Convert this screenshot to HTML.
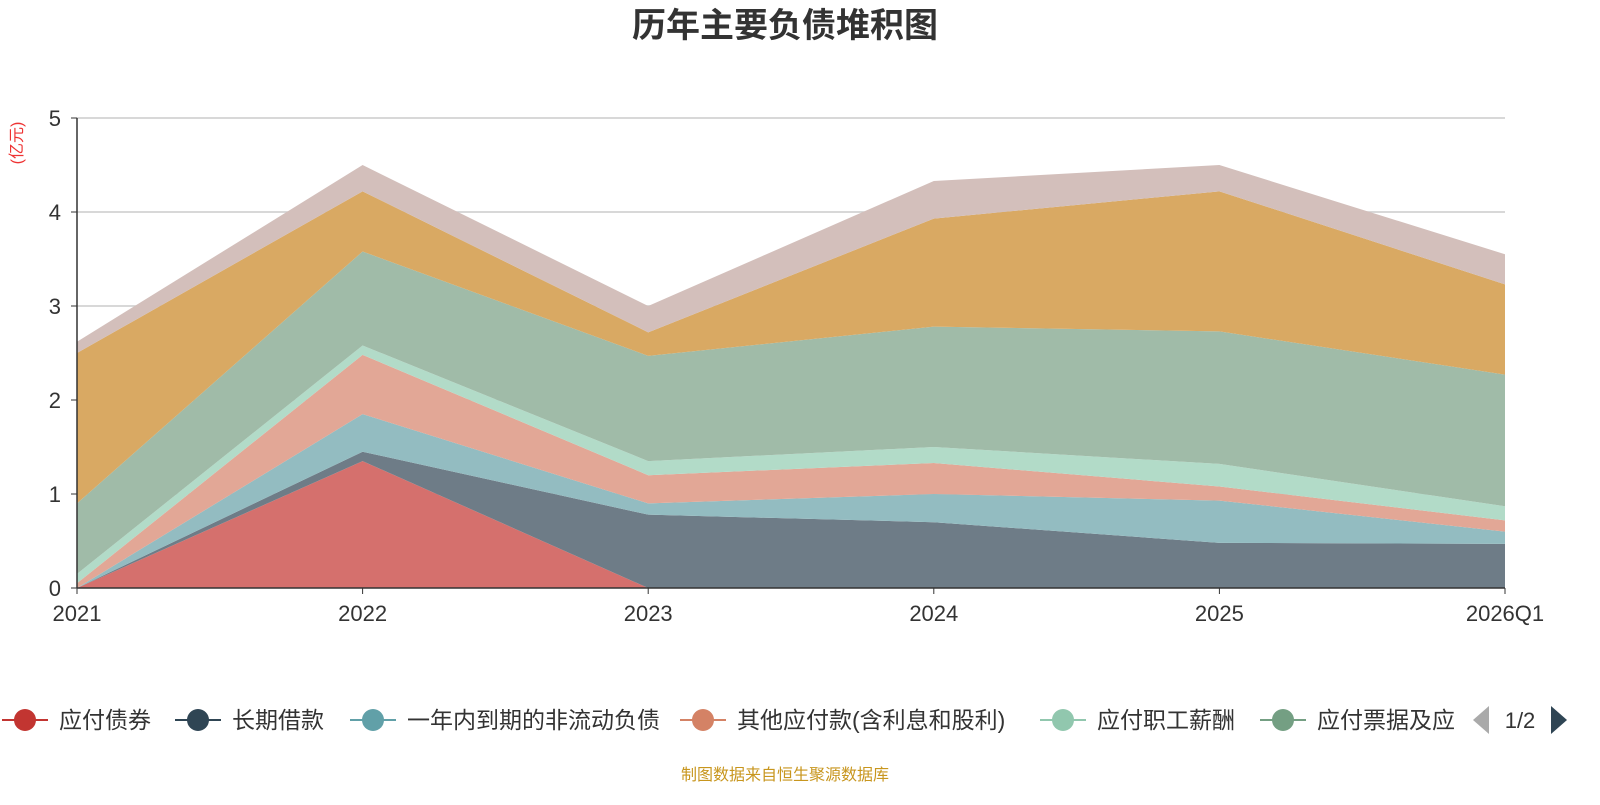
<!DOCTYPE html>
<html><head><meta charset="utf-8">
<style>
body{margin:0;background:#fff;font-family:"Liberation Sans","Noto Sans CJK SC",sans-serif;}
svg text{font-family:"Liberation Sans","Noto Sans CJK SC",sans-serif;}
</style></head>
<body>
<svg id="chart" width="1600" height="800" viewBox="0 0 1600 800" xmlns="http://www.w3.org/2000/svg">
<text x="785" y="37" text-anchor="middle" font-size="34" font-weight="bold" fill="#333">历年主要负债堆积图</text>
<text transform="translate(22,143) rotate(-90)" text-anchor="middle" font-size="16" fill="#e33">(亿元)</text>
<g id="grid"></g>
<g id="areas"></g>
<g id="axes"></g>
<g id="legend"></g>
<text x="785" y="780" text-anchor="middle" font-size="16" fill="#c8961e">制图数据来自恒生聚源数据库</text>
</svg>
<script>
const categories=["2021","2022","2023","2024","2025","2026Q1"];
const yTicks=[0,1,2,3,4,5];
const seriesNames=["应付债券","长期借款","一年内到期的非流动负债","其他应付款(含利息和股利)","应付职工薪酬","应付票据及应付账款","合同负债","其他"];
const s0=[0,1.35,0,0,0,0];
const s1=[0,0.10,0.78,0.70,0.48,0.47];
const s2=[0,0.40,0.12,0.30,0.45,0.13];
const s3=[0.05,0.63,0.30,0.33,0.15,0.12];
const s4=[0.10,0.10,0.15,0.17,0.24,0.15];
const s5=[0.75,1.00,1.12,1.28,1.41,1.40];
const s6=[1.60,0.64,0.25,1.15,1.49,0.96];
const s7=[0.12,0.28,0.28,0.40,0.28,0.32];
const series=[s0,s1,s2,s3,s4,s5,s6,s7];
const fills=["#d5706d","#6e7c87","#93bcc1","#e2a796","#b2dbc8","#a0bba8","#d9a963","#d3bfbb"];
const legendColors=["#c23531","#2f4554","#61a0a8","#d48265","#91c7ae","#749f83"];
const NS="http://www.w3.org/2000/svg";
const x0=77,x1=1505,yB=588,yT=118,yMax=5;
const xs=i=>x0+(x1-x0)*i/(categories.length-1);
const ys=v=>yB-(yB-yT)*v/yMax;
function mk(t,a,p){const e=document.createElementNS(NS,t);for(const k in a)e.setAttribute(k,a[k]);p.appendChild(e);return e;}
const grid=document.getElementById('grid'),axes=document.getElementById('axes'),areas=document.getElementById('areas'),legend=document.getElementById('legend');
yTicks.forEach(v=>{
  if(v>0){const l=mk('line',{x1:x0,x2:x1,y1:ys(v),y2:ys(v),stroke:'#ccc','stroke-width':1.5},grid);
  
  }
  const t=mk('text',{x:x0-16,y:ys(v)+8,'text-anchor':'end','font-size':22,fill:'#333'},axes);t.textContent=v;
  
  
  const tk=mk('line',{x1:x0-6,x2:x0,y1:ys(v),y2:ys(v),stroke:'#333'},axes);
  
  
});
let cum=categories.map(()=>0);
series.forEach((s,si)=>{
  const lower=cum.slice();const upper=cum.map((c,i)=>c+s[i]);
  let d='';
  upper.forEach((v,i)=>{d+=(i?'L':'M')+xs(i)+','+ys(v);});
  for(let i=lower.length-1;i>=0;i--)d+='L'+xs(i)+','+ys(lower[i]);
  const p=mk('path',{d:d+'Z',fill:fills[si],stroke:'none'},areas);
  
  
  cum=upper;
});
const ax=mk('line',{x1:x0,x2:x1,y1:yB,y2:yB,stroke:'#333','stroke-width':1.5},axes);


const ay=mk('line',{x1:x0,x2:x0,y1:yT,y2:yB,stroke:'#333','stroke-width':1.5},axes);


categories.forEach((c,i)=>{
  const t=mk('text',{x:xs(i),y:621,'text-anchor':'middle','font-size':22,fill:'#333'},axes);t.textContent=c;
  
  
  const tk=mk('line',{x1:xs(i),x2:xs(i),y1:yB,y2:yB+6,stroke:'#333'},axes);
  
  
});
const legendX=[2,175,350,680,1040,1260];
const legendLabels=["应付债券","长期借款","一年内到期的非流动负债","其他应付款(含利息和股利)","应付职工薪酬","应付票据及应"];
legendLabels.forEach((n,i)=>{
  const g=mk('g',{},legend);
  
  
  mk('line',{x1:legendX[i],x2:legendX[i]+46,y1:720,y2:720,stroke:legendColors[i],'stroke-width':2},g);
  mk('circle',{cx:legendX[i]+23,cy:720,r:11,fill:legendColors[i]},g);
  const t=mk('text',{x:legendX[i]+57,y:728,'font-size':23,fill:'#333'},g);t.textContent=n;
});
const pl=mk('path',{d:'M1473,720 L1489,706 L1489,734 Z',fill:'#aaa'},legend);


const pt=mk('text',{x:1520,y:728,'text-anchor':'middle','font-size':22,fill:'#333'},legend);pt.textContent='1/2';


const pn=mk('path',{d:'M1551,706 L1567,720 L1551,734 Z',fill:'#2f4554'},legend);


</script>
</body></html>
